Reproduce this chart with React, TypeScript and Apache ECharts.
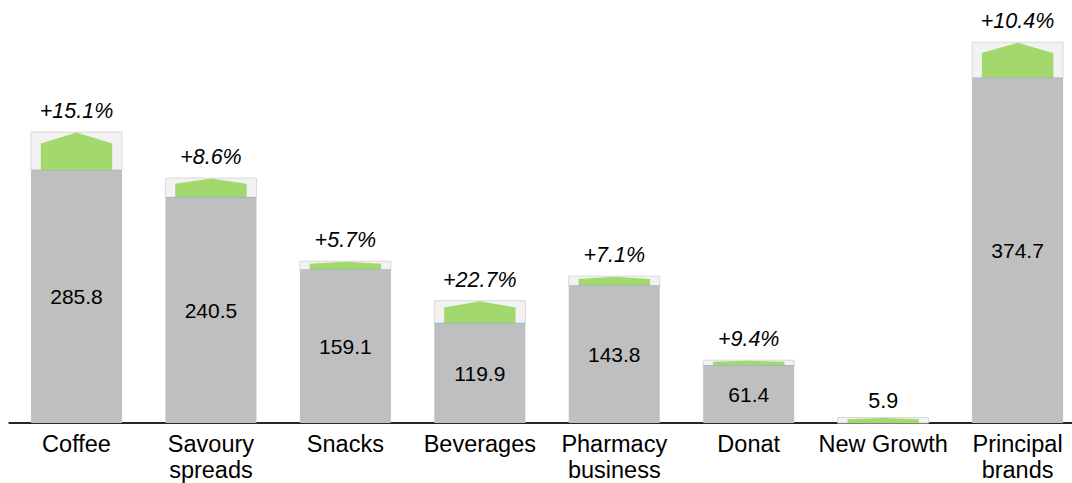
import React, { useEffect, useRef } from "react";
import * as echarts from "echarts";

const categories = [
  "Coffee",
  "Savoury\nspreads",
  "Snacks",
  "Beverages",
  "Pharmacy\nbusiness",
  "Donat",
  "New Growth",
  "Principal\nbrands",
];
// labels printed inside the grey bars
const valueLabels = ["285.8", "240.5", "159.1", "119.9", "143.8", "61.4", "", "374.7"];
// grey bar heights as drawn in the picture
const baseValues = [272.6, 243.3, 165.1, 107.5, 147.9, 61.9, 0, 372.0];
// growth percentages (New Growth has none)
const growthPct: (number | null)[] = [15.1, 8.6, 5.7, 22.7, 7.1, 9.4, null, 10.4];
const newGrowthValue = 5.9;
const growthLabels = ["+15.1%", "+8.6%", "+5.7%", "+22.7%", "+7.1%", "+9.4%", "5.9", "+10.4%"];

const FONT = '"Liberation Sans", Arial, Helvetica, sans-serif';

export default function App() {
  const ref = useRef<HTMLDivElement>(null);
  useEffect(() => {
    if (!ref.current) return;
    const chart = echarts.init(ref.current, null, { renderer: "svg" });
    const increments = baseValues.map((b, i) =>
      growthPct[i] == null ? newGrowthValue : (b * (growthPct[i] as number)) / 100
    );
    const customData = baseValues.map((b, i) => [i, b, increments[i]]);
    chart.setOption({
      animation: false,
      backgroundColor: "#ffffff",
      grid: { left: 9.3, right: 5.2, top: 24.3, bottom: 58.7 },
      xAxis: {
        type: "category",
        data: categories,
        axisTick: { show: false },
        axisLine: { lineStyle: { color: "#262626", width: 2 } },
        axisLabel: {
          color: "#000",
          fontSize: 23.5,
          fontFamily: FONT,
          lineHeight: 26,
          margin: 8,
          interval: 0,
        },
      },
      yAxis: {
        type: "value",
        min: 0,
        max: 430,
        show: false,
        splitLine: { show: false },
      },
      series: [
        {
          type: "bar",
          data: baseValues,
          barWidth: "67.7%",
          itemStyle: { color: "#bfbfbf" },
          z: 2,
          label: {
            show: true,
            position: "inside",
            color: "#000",
            fontSize: 21,
            fontFamily: FONT,
            formatter: (p: any) => valueLabels[p.dataIndex],
          },
        },
        {
          type: "custom",
          data: customData,
          z: 3,
          encode: { x: 0, y: [1, 2] },
          renderItem: (params: any, api: any) => {
            const i = api.value(0);
            const base = api.value(1);
            const inc = api.value(2);
            const [cx, yBase] = api.coord([i, base]);
            const yTop = api.coord([i, base + inc])[1];
            const yShoulder = api.coord([i, base + inc * 0.7])[1];
            const band = api.size([1, 0])[0];
            const w = band * 0.677;
            const gw = w * 0.785;
            const isPct = growthPct[params.dataIndex] != null;
            return {
              type: "group",
              children: [
                {
                  type: "rect",
                  shape: { x: cx - w / 2, y: yTop, width: w, height: yBase - yTop },
                  style: { fill: "#f2f2f2", stroke: "#d9d9d9", lineWidth: 1 },
                },
                {
                  type: "polygon",
                  shape: {
                    points: [
                      [cx - gw / 2, yBase],
                      [cx - gw / 2, yShoulder],
                      [cx, yTop + 0.5],
                      [cx + gw / 2, yShoulder],
                      [cx + gw / 2, yBase],
                    ],
                  },
                  style: { fill: "#a3d86c" },
                },
                {
                  type: "line",
                  shape: { x1: cx - w / 2, y1: yBase, x2: cx + w / 2, y2: yBase },
                  style: { stroke: base > 0 ? "#9fb2c9" : "none", lineWidth: 1 },
                },
                {
                  type: "text",
                  x: cx,
                  y: yTop - (isPct ? 21 : 17),
                  style: {
                    text: growthLabels[params.dataIndex],
                    fill: "#000",
                    fontSize: 21.5,
                    fontFamily: FONT,
                    fontStyle: isPct ? "italic" : "normal",
                    align: "center",
                    verticalAlign: "middle",
                  },
                },
              ],
            };
          },
        },
      ],
    });
    return () => chart.dispose();
  }, []);
  return (
    <div style={{ position: "fixed", left: 0, top: 0, width: 1072, height: 483, overflow: "hidden" }}>
      <div ref={ref} style={{ width: 1090, height: 483 }} />
    </div>
  );
}
